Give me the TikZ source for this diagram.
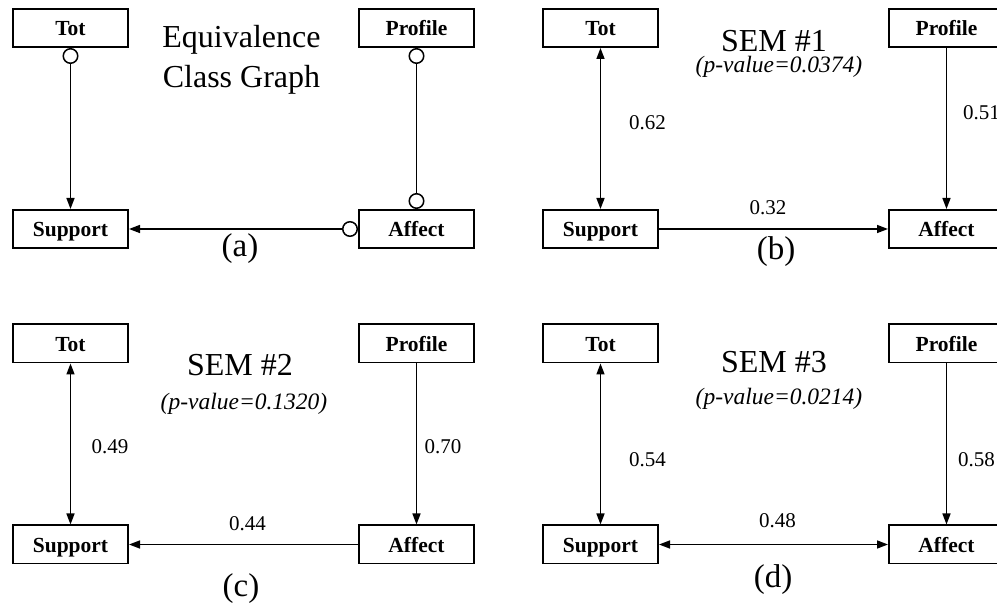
\documentclass[tikz,border=0pt]{standalone}
\usepackage{fontspec}
\setmainfont{Liberation Serif}
\usetikzlibrary{arrows.meta}
\begin{document}
\begin{tikzpicture}[x=1pt,y=-1pt,
  var/.style={draw,line width=1.8pt,minimum width=115.2pt,minimum height=38.2pt,inner sep=0pt,text height=16pt,text depth=0pt,font=\fontsize{21.5}{24}\selectfont\bfseries},
  conn/.style={line width=1.5pt},
  >={Triangle[length=11pt,width=8pt]},
  ocirc/.tip={Circle[open,length=16pt,fill=white]},
  title/.style={anchor=base,inner sep=0pt,font=\fontsize{32}{38}\selectfont},
  pval/.style={anchor=base,inner sep=0pt,font=\fontsize{23.5}{28}\selectfont\itshape},
  coef/.style={anchor=base,inner sep=0pt,font=\fontsize{21}{24}\selectfont},
  lab/.style={anchor=base,inner sep=0pt,font=\fontsize{33}{38}\selectfont}]
\useasboundingbox (0,0) rectangle (997,609);
\clip (0,0) rectangle (997,609);
% panel (a)
\node[var] (atot) at (70.5,28) {Tot};
\node[var] (aprof) at (416.5,28) {Profile};
\node[var] (asup) at (70.5,229) {Support};
\node[var] (aaff) at (416.5,229) {Affect};
\draw[conn,{ocirc}->] (atot) -- (asup);
\draw[conn,{ocirc}-{ocirc}] (aprof) -- (aaff);
\draw[conn,{ocirc}->] (aaff) -- (asup);
\node[title] (atitle1) at (241.5,48) {Equivalence};
\node[title] (atitle2) at (241.5,88) {Class Graph};
\node[lab] (alab) at (240,257) {(a)};
% panel (b)
\node[var] (btot) at (600.5,28) {Tot};
\node[var] (bprof) at (946.5,28) {Profile};
\node[var] (bsup) at (600.5,229) {Support};
\node[var] (baff) at (946.5,229) {Affect};
\draw[conn,<->] (btot) -- (bsup);
\draw[conn,->] (bprof) -- (baff);
\draw[conn,->] (bsup) -- (baff);
\node[title] (btitle) at (774,52) {SEM \#1};
\node[pval] (bp) at (779,73) {(p-value=0.0374)};
\node[coef] (bc1) at (647.5,130) {0.62};
\node[coef,anchor=base west] (bc2) at (963,120) {0.51};
\node[coef] (bc3) at (768,215) {0.32};
\node[lab] (blab) at (776,260) {(b)};
% panel (c)
\node[var] (ctot) at (70.5,343.5) {Tot};
\node[var] (cprof) at (416.5,343.5) {Profile};
\node[var] (csup) at (70.5,544.5) {Support};
\node[var] (caff) at (416.5,544.5) {Affect};
\draw[conn,<->] (ctot) -- (csup);
\draw[conn,->] (cprof) -- (caff);
\draw[conn,->] (caff) -- (csup);
\node[title] (ctitle) at (240,376) {SEM \#2};
\node[pval] (cp) at (244,410) {(p-value=0.1320)};
\node[coef] (cc1) at (110,454) {0.49};
\node[coef] (cc2) at (443,454) {0.70};
\node[coef] (cc3) at (247.5,531) {0.44};
\node[lab] (clab) at (241,597) {(c)};
% panel (d)
\node[var] (dtot) at (600.5,343.5) {Tot};
\node[var] (dprof) at (946.5,343.5) {Profile};
\node[var] (dsup) at (600.5,544.5) {Support};
\node[var] (daff) at (946.5,544.5) {Affect};
\draw[conn,<->] (dtot) -- (dsup);
\draw[conn,->] (dprof) -- (daff);
\draw[conn,<->] (dsup) -- (daff);
\node[title] (dtitle) at (774,373) {SEM \#3};
\node[pval] (dp) at (779,405) {(p-value=0.0214)};
\node[coef] (dc1) at (647.5,467) {0.54};
\node[coef,anchor=base west] (dc2) at (958,467) {0.58};
\node[coef] (dc3) at (777.5,528) {0.48};
\node[lab] (dlab) at (773,588) {(d)};
\end{tikzpicture}
\end{document}
